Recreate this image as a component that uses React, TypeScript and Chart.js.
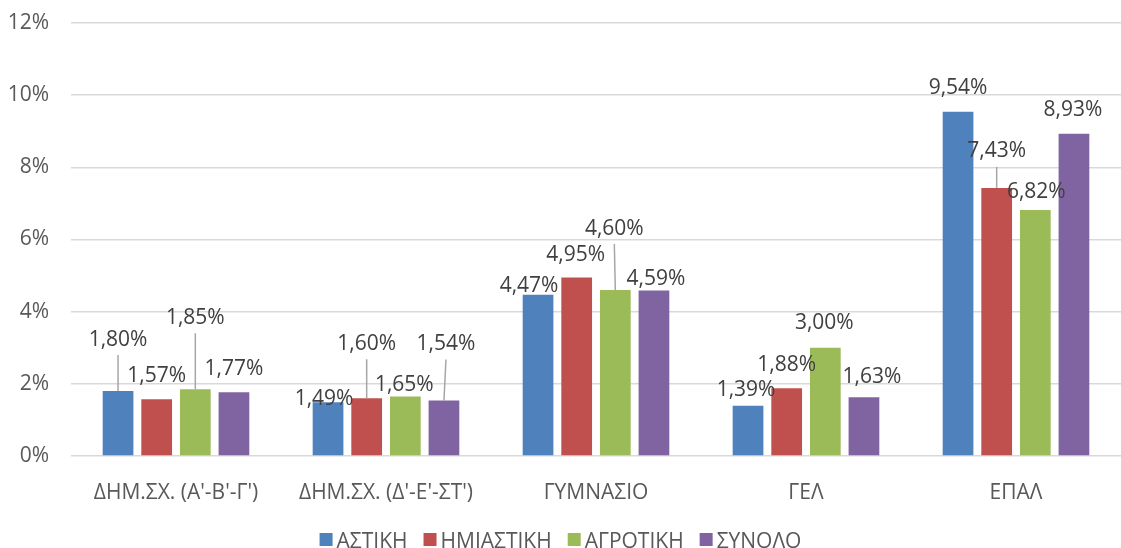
import React, { useEffect, useRef } from "react";
import { Chart, registerables } from "chart.js";

Chart.register(...registerables);

const CATEGORIES = ["ΔΗΜ.ΣΧ. (Α'-Β'-Γ')", "ΔΗΜ.ΣΧ. (Δ'-Ε'-ΣΤ')", "ΓΥΜΝΑΣΙΟ", "ΓΕΛ", "ΕΠΑΛ"];
const SERIES_NAMES = ["ΑΣΤΙΚΗ", "ΗΜΙΑΣΤΙΚΗ", "ΑΓΡΟΤΙΚΗ", "ΣΥΝΟΛΟ"];
const ASTIKI = [1.8, 1.49, 4.47, 1.39, 9.54];
const HMIASTIKI = [1.57, 1.6, 4.95, 1.88, 7.43];
const AGROTIKI = [1.85, 1.65, 4.6, 3.0, 6.82];
const SYNOLO = [1.77, 1.54, 4.59, 1.63, 8.93];
const Y_MIN = 0;
const Y_MAX = 12;
const Y_STEP = 2;

const COLORS = ["#4F81BD", "#C0504D", "#9BBB59", "#8064A2"];
const FONT = '"Open Sans", "Noto Sans", sans-serif';
const FONT_SIZE = 21;

// label centre offset [dx, dy] from the top-centre of each bar (px)
const LABEL_OFFSETS = [
  [[0, -53], [-4, -5], [-9, -10], [-2, -17], [0, -25]],
  [[0, -25], [0, -56], [-1, -24], [0, -25], [0, -38]],
  [[0, -73], [-1, -13], [-1, -63], [-1, -26], [1, -19]],
  [[0, -25], [2, -58], [2, -13], [8, -22], [-1, -25]],
];

const fmt = (v: number) => v.toFixed(2).replace(".", ",") + "%";

const dataLabelPlugin = {
  id: "dataLabels",
  afterDatasetsDraw(chart: any) {
    const ctx = chart.ctx;
    ctx.save();
    ctx.font = `${FONT_SIZE}px ${FONT}`;
    ctx.textAlign = "center";
    ctx.textBaseline = "alphabetic";
    chart.data.datasets.forEach((ds: any, i: number) => {
      const meta = chart.getDatasetMeta(i);
      meta.data.forEach((bar: any, j: number) => {
        const [dx, dy] = LABEL_OFFSETS[i][j];
        const cx = bar.x + dx;
        const cy = bar.y + dy;
        if (dy <= -35) {
          ctx.strokeStyle = "#A6A6A6";
          ctx.lineWidth = 1.5;
          ctx.beginPath();
          ctx.moveTo(cx, cy + 17);
          ctx.lineTo(bar.x, bar.y);
          ctx.stroke();
        }
        ctx.fillStyle = "#404040";
        ctx.fillText(fmt(ds.data[j]), cx, cy + 7.5);
      });
    });
    ctx.restore();
  },
};

const legendPlugin = {
  id: "customLegend",
  afterDraw(chart: any) {
    const ctx = chart.ctx;
    ctx.save();
    ctx.font = `${FONT_SIZE}px ${FONT}`;
    ctx.textBaseline = "alphabetic";
    ctx.textAlign = "left";
    const box = 13;
    const gapBox = 4;
    const gapItem = 16;
    const items = chart.data.datasets.map((ds: any) => ({
      label: ds.label,
      color: ds.backgroundColor,
      w: ctx.measureText(ds.label).width,
    }));
    const total =
      items.reduce((s: number, it: any) => s + box + gapBox + it.w, 0) + gapItem * (items.length - 1);
    let x = chart.width / 2 - total / 2;
    const cy = 540;
    items.forEach((it: any) => {
      ctx.fillStyle = it.color;
      ctx.fillRect(x, cy - 7, box, box);
      x += box + gapBox;
      ctx.fillStyle = "#595959";
      ctx.fillText(it.label, x, cy + 7.5);
      x += it.w + gapItem;
    });
    ctx.restore();
  },
};

export default function App() {
  const ref = useRef<HTMLCanvasElement | null>(null);
  useEffect(() => {
    if (!ref.current) return;
    const series = [ASTIKI, HMIASTIKI, AGROTIKI, SYNOLO];
    const chart = new Chart(ref.current, {
      type: "bar",
      data: {
        labels: CATEGORIES,
        datasets: series.map((d, i) => ({
          label: SERIES_NAMES[i],
          data: d,
          backgroundColor: COLORS[i],
          borderWidth: 0,
          categoryPercentage: 0.736,
          barPercentage: 0.795,
        })),
      },
      options: {
        animation: false,
        responsive: false,
        devicePixelRatio: 1,
        layout: { padding: { top: 23, left: 0, right: -11, bottom: 0 } },
        plugins: {
          legend: { display: false },
          tooltip: { enabled: false },
        },
        scales: {
          x: {
            grid: { display: false },
            border: { display: false },
            ticks: {
              color: "#595959",
              font: { family: FONT, size: FONT_SIZE },
              padding: 16,
              maxRotation: 0,
            },
            afterFit: (s: any) => {
              s.height = 92;
            },
          },
          y: {
            min: Y_MIN,
            max: Y_MAX,
            grid: {
              color: "#D9D9D9",
              lineWidth: 1.5,
              drawTicks: true,
              tickLength: 22,
              tickColor: "rgba(0,0,0,0)",
            },
            border: { display: false },
            ticks: {
              stepSize: Y_STEP,
              color: "#595959",
              font: { family: FONT, size: FONT_SIZE },
              padding: 0,
              callback: (v: any) => v + "%",
            },
            afterFit: (s: any) => {
              s.width = 71;
            },
          },
        },
      },
      plugins: [dataLabelPlugin, legendPlugin],
    });
    return () => chart.destroy();
  }, []);
  return (
    <div
      style={{
        position: "absolute",
        left: 0,
        top: 0,
        width: 1121,
        height: 548,
        overflow: "hidden",
        background: "#fff",
      }}
    >
      <canvas ref={ref} width={1121} height={548} style={{ display: "block" }} />
    </div>
  );
}
